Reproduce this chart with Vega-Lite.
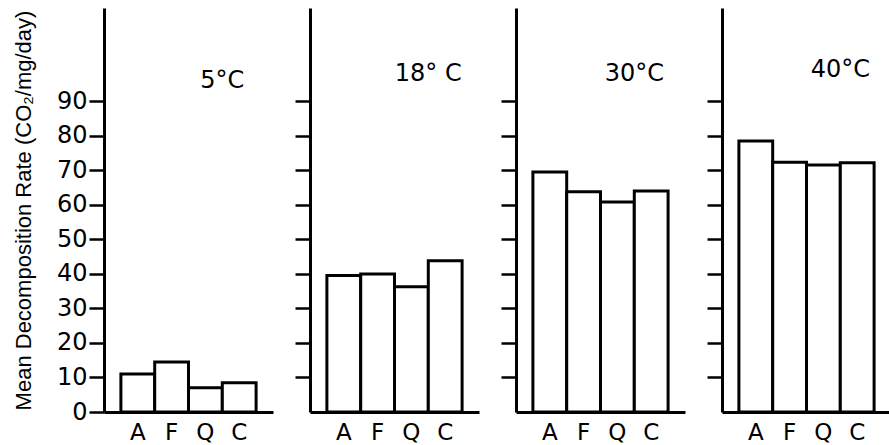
{
  "$schema": "https://vega.github.io/schema/vega-lite/v6.json",
  "padding": {"left": 12, "top": 8, "right": 0, "bottom": 0},
  "background": "white",
  "spacing": 20,
  "config": {
    "view": {"stroke": null},
    "font": "DejaVu Sans",
    "axis": {"domainColor": "black", "domainWidth": 3, "tickColor": "black", "tickWidth": 2.5, "labelColor": "black", "titleColor": "black", "grid": false, "labelFont": "DejaVu Sans", "titleFont": "Liberation Sans"},
    "text": {"color": "black", "font": "DejaVu Sans"}
  },
  "data": {
    "values": [
      {"temp": "5°C", "soil": "A", "rate": 11},
      {"temp": "5°C", "soil": "F", "rate": 14.5},
      {"temp": "5°C", "soil": "Q", "rate": 7},
      {"temp": "5°C", "soil": "C", "rate": 8.5},
      {"temp": "18°C", "soil": "A", "rate": 39.5},
      {"temp": "18°C", "soil": "F", "rate": 40},
      {"temp": "18°C", "soil": "Q", "rate": 36.3},
      {"temp": "18°C", "soil": "C", "rate": 43.8},
      {"temp": "30°C", "soil": "A", "rate": 69.5},
      {"temp": "30°C", "soil": "F", "rate": 63.8},
      {"temp": "30°C", "soil": "Q", "rate": 60.8},
      {"temp": "30°C", "soil": "C", "rate": 64},
      {"temp": "40°C", "soil": "A", "rate": 78.5},
      {"temp": "40°C", "soil": "F", "rate": 72.3},
      {"temp": "40°C", "soil": "Q", "rate": 71.5},
      {"temp": "40°C", "soil": "C", "rate": 72.2}
    ]
  },
  "hconcat": [
    {
      "width": 169, "height": 404,
      "layer": [
        {
          "transform": [{"filter": "datum.temp === '5°C'"}],
          "mark": {"type": "bar", "fill": "white", "stroke": "black", "strokeWidth": 3},
          "encoding": {
            "x": {"field": "soil", "type": "nominal", "scale": {"domain": ["A", "F", "Q", "C"], "paddingInner": 0, "paddingOuter": 0.5}, "axis": {"title": null, "labelAngle": 0, "ticks": false, "labelPadding": 9, "labelFontSize": 23}},
            "y": {"field": "rate", "type": "quantitative", "scale": {"domain": [0, 117], "nice": false}, "axis": {"title": "Mean Decomposition Rate (CO₂/mg/day)", "values": [0, 10, 20, 30, 40, 50, 60, 70, 80, 90], "tickSize": 15, "labelPadding": 2, "labelFontSize": 24, "titleFontSize": 22, "titleFontWeight": "normal", "titlePadding": 21}}
          }
        },
        {
          "data": {"values": [{"label": "5°C"}]},
          "mark": {"type": "text", "fontSize": 24, "align": "center", "baseline": "middle"},
          "encoding": {"x": {"datum": "C", "type": "nominal", "bandPosition": 0}, "y": {"datum": 96, "type": "quantitative"}, "text": {"field": "label"}}
        }
      ]
    },
    {
      "width": 169, "height": 404,
      "layer": [
        {
          "transform": [{"filter": "datum.temp === '18°C'"}],
          "mark": {"type": "bar", "fill": "white", "stroke": "black", "strokeWidth": 3},
          "encoding": {
            "x": {"field": "soil", "type": "nominal", "scale": {"domain": ["A", "F", "Q", "C"], "paddingInner": 0, "paddingOuter": 0.5}, "axis": {"title": null, "labelAngle": 0, "ticks": false, "labelPadding": 9, "labelFontSize": 23}},
            "y": {"field": "rate", "type": "quantitative", "scale": {"domain": [0, 117], "nice": false}, "axis": {"title": null, "labels": false, "values": [10, 20, 30, 40, 50, 60, 70, 80, 90], "tickSize": 15}}
          }
        },
        {
          "data": {"values": [{"label": "18° C"}]},
          "mark": {"type": "text", "fontSize": 24, "align": "center", "baseline": "middle"},
          "encoding": {"x": {"datum": "C", "type": "nominal", "bandPosition": 0}, "y": {"datum": 98, "type": "quantitative"}, "text": {"field": "label"}}
        }
      ]
    },
    {
      "width": 169, "height": 404,
      "layer": [
        {
          "transform": [{"filter": "datum.temp === '30°C'"}],
          "mark": {"type": "bar", "fill": "white", "stroke": "black", "strokeWidth": 3},
          "encoding": {
            "x": {"field": "soil", "type": "nominal", "scale": {"domain": ["A", "F", "Q", "C"], "paddingInner": 0, "paddingOuter": 0.5}, "axis": {"title": null, "labelAngle": 0, "ticks": false, "labelPadding": 9, "labelFontSize": 23}},
            "y": {"field": "rate", "type": "quantitative", "scale": {"domain": [0, 117], "nice": false}, "axis": {"title": null, "labels": false, "values": [10, 20, 30, 40, 50, 60, 70, 80, 90], "tickSize": 15}}
          }
        },
        {
          "data": {"values": [{"label": "30°C"}]},
          "mark": {"type": "text", "fontSize": 24, "align": "center", "baseline": "middle"},
          "encoding": {"x": {"datum": "C", "type": "nominal", "bandPosition": 0}, "y": {"datum": 98, "type": "quantitative"}, "text": {"field": "label"}}
        }
      ]
    },
    {
      "width": 169, "height": 404,
      "layer": [
        {
          "transform": [{"filter": "datum.temp === '40°C'"}],
          "mark": {"type": "bar", "fill": "white", "stroke": "black", "strokeWidth": 3},
          "encoding": {
            "x": {"field": "soil", "type": "nominal", "scale": {"domain": ["A", "F", "Q", "C"], "paddingInner": 0, "paddingOuter": 0.5}, "axis": {"title": null, "labelAngle": 0, "ticks": false, "labelPadding": 9, "labelFontSize": 23}},
            "y": {"field": "rate", "type": "quantitative", "scale": {"domain": [0, 117], "nice": false}, "axis": {"title": null, "labels": false, "values": [10, 20, 30, 40, 50, 60, 70, 80, 90], "tickSize": 15}}
          }
        },
        {
          "data": {"values": [{"label": "40°C"}]},
          "mark": {"type": "text", "fontSize": 24, "align": "center", "baseline": "middle"},
          "encoding": {"x": {"datum": "C", "type": "nominal", "bandPosition": 0}, "y": {"datum": 99, "type": "quantitative"}, "text": {"field": "label"}}
        }
      ]
    }
  ]
}
